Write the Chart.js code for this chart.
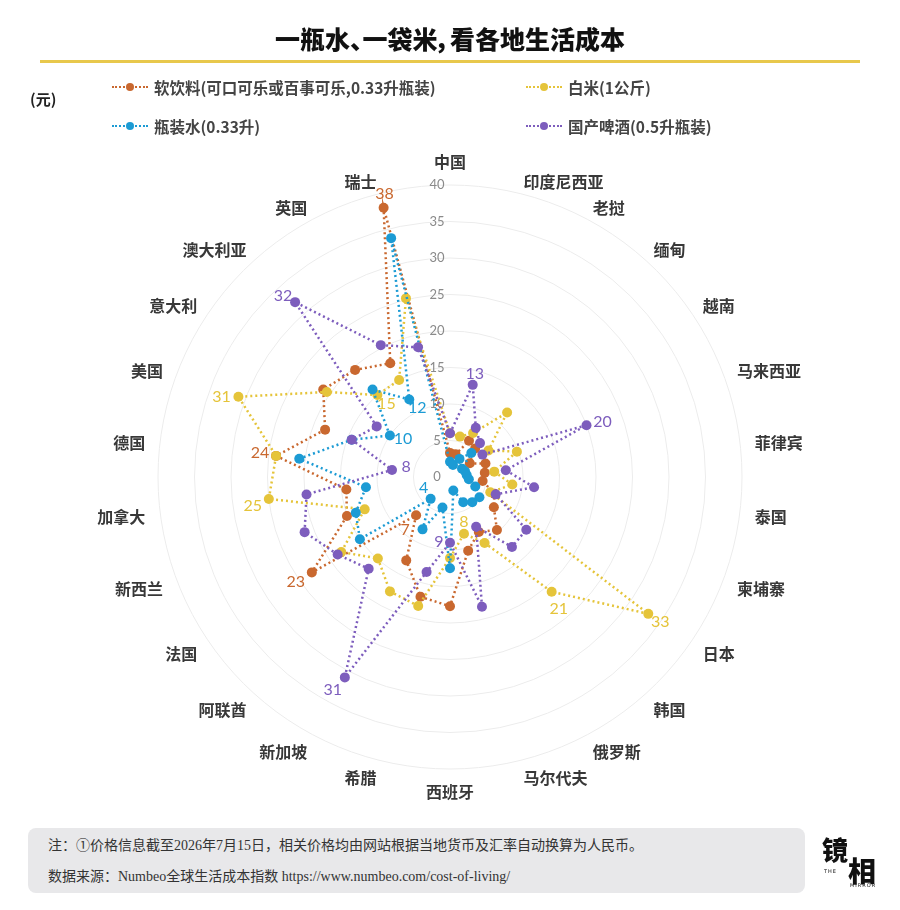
<!DOCTYPE html>
<html>
<head>
    <meta charset="utf-8">
    <title>一瓶水、一袋米，看各地生活成本</title>
    <script src="https://cdn.jsdelivr.net/npm/chart.js@4.4.0/dist/chart.umd.min.js"></script>
    <style>
        body {
            margin: 0;
            background: #fff;
            font-family: "Noto Sans CJK SC", sans-serif;
            color: #333;
        }
        .page { position: relative; width: 900px; height: 910px; overflow: hidden; }
        .chart-box { position: absolute; left: 0; top: 0; width: 900px; height: 910px; }
        .title {
            position: absolute; left: 0; width: 900px; top: 20px;
            text-align: center; font-size: 25px; font-weight: 900; color: #111;
            font-feature-settings: "palt";
        }
        .rule { position: absolute; left: 40px; width: 820px; top: 60px; height: 3px; background: #e8c84c; }
        .unit { position: absolute; left: 30px; top: 88px; font-size: 15px; font-weight: 700; color: #222; }
        .legend-item {
            position: absolute; font-size: 15.5px; font-weight: 700; color: #444;
            display: flex; align-items: center; white-space: nowrap;
        }
        .marker { position: relative; width: 36px; height: 10px; margin-right: 6px; }
        .marker::before {
            content: ""; position: absolute; left: 0; right: 0; top: 4px;
            border-top: 2px dotted var(--c);
        }
        .marker::after {
            content: ""; position: absolute; left: 14px; top: 1px; width: 8px; height: 8px;
            border-radius: 50%; background: var(--c);
        }
        .note {
            position: absolute; left: 28px; top: 828px; width: 777px; height: 65px;
            background: #e8e8ea; border-radius: 8px;
            font-family: "Liberation Serif", "Noto Sans CJK SC", serif; font-size: 14px; color: #333;
        }
        .note div { position: absolute; left: 20px; white-space: nowrap; }
        .logo { position: absolute; left: 822px; top: 830px; width: 60px; height: 60px; color: #111; }
        .logo .a { position: absolute; left: 0; top: 0; font-size: 26px; font-weight: 900; }
        .logo .b { position: absolute; left: 26px; top: 20px; font-size: 28px; font-weight: 900; }
        .logo .s { position: absolute; font-size: 5px; font-family: "DejaVu Sans"; letter-spacing: 1px; }
    </style>
</head>
<body>
<div class="page">
    <div class="chart-box"><canvas id="costRadar"></canvas></div>

    <div class="title">一瓶水、一袋米，看各地生活成本</div>
    <div class="rule"></div>
    <div class="unit">(元)</div>

    <div class="legend-item" style="left:112px; top:76px;"><span class="marker" style="--c:#c9682f"></span>软饮料(可口可乐或百事可乐,0.33升瓶装)</div>
    <div class="legend-item" style="left:526px; top:76px;"><span class="marker" style="--c:#e5c43a"></span>白米(1公斤)</div>
    <div class="legend-item" style="left:112px; top:115px;"><span class="marker" style="--c:#1c9bd4"></span>瓶装水(0.33升)</div>
    <div class="legend-item" style="left:526px; top:115px;"><span class="marker" style="--c:#7d5dbd"></span>国产啤酒(0.5升瓶装)</div>

    <div class="note">
        <div style="top:6px;">注：①价格信息截至2026年7月15日，相关价格均由网站根据当地货币及汇率自动换算为人民币。</div>
        <div style="top:37px;">数据来源：Numbeo全球生活成本指数 https://www.numbeo.com/cost-of-living/</div>
    </div>
    <div class="logo">
        <span class="a">镜</span><span class="b">相</span>
        <span class="s" style="left:2px; top:38px;">THE</span>
        <span class="s" style="left:28px; top:52px;">MIRROR</span>
    </div>
</div>

<script>
    // countries, clockwise from the top
    const countries = ['中国', '印度尼西亚', '老挝', '缅甸', '越南', '马来西亚', '菲律宾', '泰国', '柬埔寨',
        '日本', '韩国', '俄罗斯', '马尔代夫', '西班牙', '希腊', '新加坡', '阿联酋', '法国', '新西兰',
        '加拿大', '德国', '美国', '意大利', '澳大利亚', '英国', '瑞士'];

    // prices in yuan
    const softDrink = [3.3, 3.2, 5.6, 5.2, 3.3, 5.2, 4.8, 4.5, 6.5, 7.3, 9.7, 8.5, 10.4,
        17.7, 16.9, 12.9, 7, 23, 15.1, 14.3, 24, 18.3, 21.1, 19.6, 17.6, 38];
    const rice = [6.0, 5.7, 6.8, 11.8, 6.4, 9.8, 6.1, 8.6, 5.9, 33, 21, 10.2, 8,
        11.1, 18.2, 17.7, 14.9, 18.1, 12.5, 25, 24, 31, 20.5, 15, 15, 25.2];
    const water = [2.1, 1.7, 2.8, 4.4, 2.0, 2.2, 2.3, 2.6, 3.7, 4.9, 4.6, 3.9, 1.9,
        12.5, 4.3, 8.1, 4, 15, 13.8, 11.6, 20.8, 14.4, 10, 16, 12, 33.7];
    const beer = [6.0, 13, 7.6, 6.2, 5.4, 20, 7.7, 11.6, 6.7, 12.7, 12.8, 7.7, 18.3,
        9, 13.4, 31, 16.8, 18.7, 21.3, 19.8, 8, 14.4, 12.2, 32, 20.4, 18.3];

    const seriesNames = ['软饮料(可口可乐或百事可乐,0.33升瓶装)', '白米(1公斤)', '瓶装水(0.33升)', '国产啤酒(0.5升瓶装)'];
    const tickValues = [0, 5, 10, 15, 20, 25, 30, 35, 40];

    const colors = ['#c9682f', '#e5c43a', '#1c9bd4', '#7d5dbd'];
    const allSeries = [softDrink, rice, water, beer];

    // which points carry a value label: [series, country, dx, dy]
    const callouts = [
        [0, 25, 1, -14], [0, 20, -16, -3], [0, 17, -16, 9], [0, 16, -11, 15],
        [1, 21, -17, 0], [1, 19, -16, 7], [1, 23, 9, 9], [1, 9, 12, 8], [1, 10, 7, 17], [1, 12, 0, -12],
        [2, 24, 8, 8], [2, 22, 13, 3], [2, 16, -7, -11],
        [3, 23, -12, -6], [3, 20, 14, -3], [3, 15, -12, 12], [3, 1, 2, -11], [3, 5, 16, -3], [3, 13, -11, -1]
    ];

    const radarText = {
        id: 'radarText',
        beforeDatasetsDraw(chart) {
            const scale = chart.scales.r;
            const ctx = chart.ctx;
            ctx.save();
            ctx.font = '13px Lato, sans-serif';
            ctx.fillStyle = '#8a8a8a';
            ctx.textAlign = 'center';
            ctx.textBaseline = 'middle';
            tickValues.forEach(v => {
                ctx.fillText(String(v), scale.xCenter - 13, scale.yCenter - scale.getDistanceFromCenterForValue(v));
            });
            ctx.restore();
        },
        afterDatasetsDraw(chart) {
            const ctx = chart.ctx;
            ctx.save();
            ctx.font = '16px Lato, sans-serif';
            ctx.textAlign = 'center';
            ctx.textBaseline = 'middle';
            callouts.forEach(([s, i, dx, dy]) => {
                const el = chart.getDatasetMeta(s).data[i];
                ctx.fillStyle = colors[s];
                ctx.fillText(String(allSeries[s][i]), el.x + dx, el.y + dy);
            });
            ctx.restore();
        },
        afterDraw(chart) {
            const scale = chart.scales.r;
            const ctx = chart.ctx;
            ctx.save();
            ctx.font = '700 16px "Noto Sans CJK SC", sans-serif';
            ctx.fillStyle = '#383838';
            countries.forEach((name, i) => {
                const p = scale.getPointPosition(i, scale.drawingArea + 15);
                const deg = Math.round(i * 360 / countries.length);
                let y = p.y + 3;
                if (deg === 0) { ctx.textAlign = 'center'; ctx.textBaseline = 'bottom'; y = p.y; }
                else if (deg === 180) { ctx.textAlign = 'center'; ctx.textBaseline = 'top'; y = p.y; }
                else { ctx.textAlign = deg < 180 ? 'left' : 'right'; ctx.textBaseline = 'middle'; }
                ctx.fillText(name, p.x, y);
            });
            ctx.restore();
        }
    };

    try {
        new Chart(document.getElementById('costRadar'), {
            type: 'radar',
            data: {
                labels: countries,
                datasets: allSeries.map((vals, i) => ({
                    label: seriesNames[i],
                    data: vals,
                    order: 3 - i,
                    borderColor: colors[i],
                    backgroundColor: colors[i],
                    pointBackgroundColor: colors[i],
                    pointBorderWidth: 0,
                    pointRadius: 5,
                    borderWidth: 2.5,
                    borderDash: [2, 3],
                    fill: false,
                    tension: 0
                }))
            },
            options: {
                responsive: true,
                maintainAspectRatio: false,
                animation: false,
                layout: { padding: { left: 158, right: 158, top: 185, bottom: 141 } },
                plugins: {
                    legend: { display: false },
                    tooltip: { enabled: false }
                },
                scales: {
                    r: {
                        min: 0,
                        max: 40,
                        ticks: { stepSize: 5, display: false },
                        grid: { circular: true, color: '#ececec', lineWidth: 1 },
                        angleLines: { display: false },
                        pointLabels: { display: false }
                    }
                }
            },
            plugins: [radarText]
        });
    } catch (error) {
        console.error('Error rendering chart:', error);
    }
</script>
</body>
</html>
